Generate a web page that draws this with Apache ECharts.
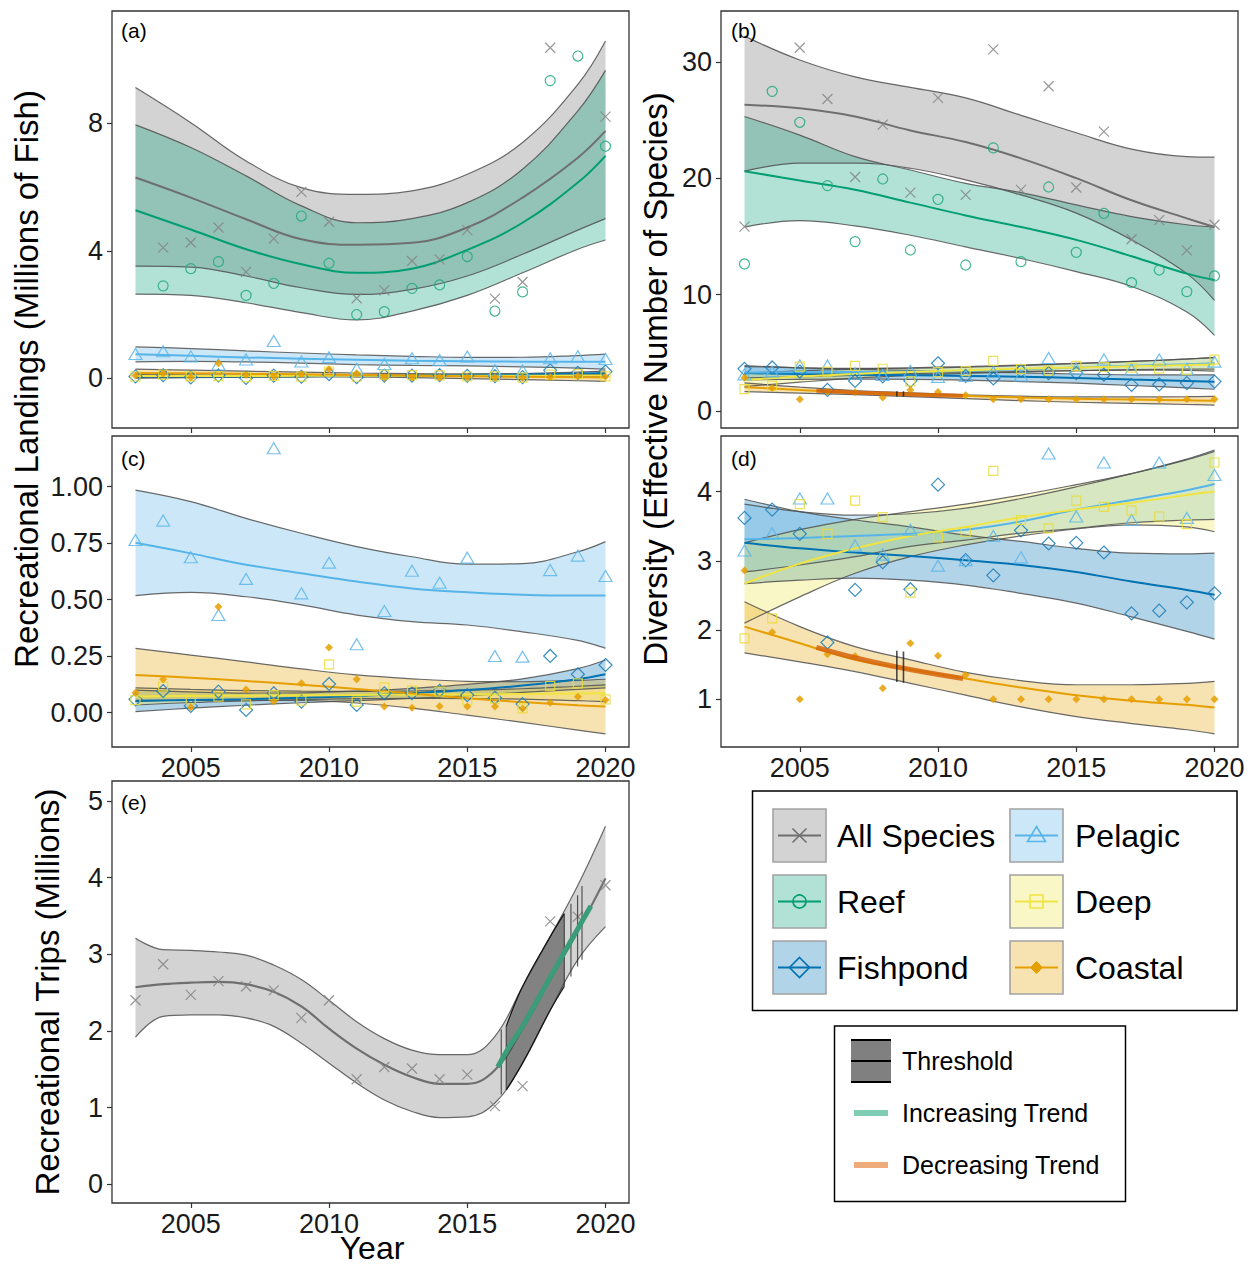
<!DOCTYPE html>
<html><head><meta charset="utf-8">
<script src="https://cdn.jsdelivr.net/npm/echarts@6/dist/echarts.min.js"></script>
<style>html,body{margin:0;padding:0;background:#fff}#c{width:1256px;height:1268px}</style>
</head><body><div id="c"></div>
<script>
// ---------------- DATA ----------------
const years = [2003,2004,2005,2006,2007,2008,2009,2010,2011,2012,2013,2014,2015,2016,2017,2018,2019,2020];
const xTicks = [2005,2010,2015,2020];
const yTicksA = [0,4,8];
const yTicksB = [0,10,20,30];
const yTicksC = [0,0.25,0.5,0.75,1.0];
const yTicksD = [1,2,3,4];
const yTicksE = [0,1,2,3,4,5];

// Recreational landings (millions of fish), panels (a) and (c)
const landAll      = [null,4.10,4.26,4.73,3.34,4.38,5.85,4.91,2.51,2.76,3.68,3.73,4.65,2.50,3.02,10.37,null,8.21];
const landReef     = [null,2.90,3.44,3.66,2.60,2.98,5.09,3.61,2.00,2.09,2.82,2.93,3.82,2.11,2.71,9.34,10.11,7.28];
const landPelagic  = [0.764,0.850,0.688,0.432,0.592,1.170,0.528,0.664,0.303,0.450,0.628,0.575,0.686,0.251,0.248,0.631,0.695,0.605];
const landDeep     = [0.056,0.115,0.059,0.071,0.037,0.078,0.053,0.214,0.049,0.112,0.098,0.093,0.056,0.062,0.019,0.118,0.130,0.059];
const landFishpond = [0.059,0.096,0.030,0.093,0.012,0.086,0.049,0.127,0.034,0.086,0.086,0.097,0.078,0.066,0.038,0.251,0.170,0.211];
const landCoastal  = [0.088,0.148,0.024,0.469,0.103,0.049,0.130,0.288,0.148,0.027,0.022,0.029,0.027,0.027,0.019,0.044,0.071,0.056];

// Diversity (effective number of species), panels (b) and (d)
const divAll      = [15.84,null,31.2,26.8,20.1,24.6,18.76,26.9,18.56,31.07,18.99,27.9,19.2,24.0,14.75,16.4,13.8,16.0];
const divReef     = [12.63,27.46,24.8,19.36,14.55,19.93,13.83,18.18,12.54,22.6,12.83,19.24,13.63,16.98,11.02,12.11,10.25,11.6];
const divPelagic  = [3.15,3.40,3.90,3.90,3.22,3.09,3.45,2.93,3.01,3.36,3.05,4.55,3.64,4.42,3.59,4.42,3.62,4.24];
const divDeep     = [1.88,2.17,3.82,3.39,3.87,3.63,2.54,3.34,3.42,4.30,3.59,3.47,3.87,3.78,3.73,3.64,3.53,4.42];
const divFishpond = [3.62,3.74,3.39,1.82,2.58,2.98,2.59,4.10,3.01,2.79,3.44,3.25,3.26,3.12,2.24,2.28,2.40,2.53];
const divCoastal  = [2.86,1.97,1.00,1.65,1.62,1.16,1.81,1.63,1.35,1.00,1.00,1.00,1.00,1.00,1.00,1.00,1.00,1.00];

// Recreational trips (millions), panel (e)
const trips = [2.40,2.87,2.47,2.65,2.58,2.53,2.17,2.40,1.37,1.53,1.51,1.37,1.43,1.02,1.28,3.43,3.49,3.90];

// Fitted curves with confidence bands (read at these years)
const fitYears = [2003,2005,2007,2009,2011,2013,2015,2017,2019,2020];
const landAllLo  = [3.52,3.49,3.21,2.84,2.63,2.79,3.21,3.89,4.65,5.01];
const landAllMid = [6.30,5.67,4.99,4.36,4.19,4.25,4.73,5.67,6.92,7.76];
const landAllHi  = [9.12,8.02,6.82,5.98,5.77,5.88,6.40,7.40,9.22,10.58];
const landReefLo  = [2.64,2.60,2.37,2.06,1.83,2.11,2.60,3.31,4.05,4.34];
const landReefMid = [5.27,4.67,4.05,3.58,3.31,3.44,4.03,4.88,6.14,6.98];
const landReefHi  = [7.95,7.24,6.35,5.41,4.88,5.01,5.51,6.56,8.39,9.66];
const landPelLo  = [0.518,0.532,0.513,0.477,0.432,0.403,0.388,0.358,0.320,0.285];
const landPelMid = [0.752,0.705,0.655,0.617,0.580,0.550,0.533,0.522,0.518,0.518];
const landPelHi  = [0.985,0.934,0.860,0.794,0.735,0.690,0.657,0.660,0.712,0.757];
const landDeepLo  = [0.034,0.045,0.052,0.058,0.062,0.063,0.062,0.060,0.053,0.049];
const landDeepMid = [0.072,0.074,0.075,0.077,0.078,0.080,0.081,0.083,0.085,0.086];
const landDeepHi  = [0.110,0.103,0.098,0.095,0.094,0.096,0.100,0.106,0.117,0.123];
const landFishLo  = [0.005,0.020,0.033,0.044,0.053,0.063,0.075,0.090,0.103,0.110];
const landFishMid = [0.053,0.056,0.060,0.066,0.074,0.086,0.100,0.120,0.148,0.170];
const landFishHi  = [0.100,0.092,0.087,0.088,0.095,0.108,0.125,0.150,0.195,0.233];
const landCoastLo  = [0.049,0.055,0.055,0.054,0.043,0.020,-0.011,-0.043,-0.077,-0.094];
const landCoastMid = [0.167,0.155,0.140,0.124,0.105,0.085,0.064,0.047,0.033,0.027];
const landCoastHi  = [0.285,0.255,0.225,0.194,0.167,0.150,0.139,0.137,0.143,0.148];

const divAllLo  = [20.6,21.3,21.3,20.85,19.85,18.56,17.0,14.7,11.8,9.5];
const divAllMid = [26.3,26.0,25.3,24.1,23.1,21.7,20.0,18.1,16.55,15.8];
const divAllHi  = [32.2,30.15,28.7,27.8,26.9,25.4,23.9,22.5,21.85,21.8];
const divReefLo  = [15.8,16.35,15.9,15.1,14.1,13.1,11.97,10.7,8.5,6.5];
const divReefMid = [20.6,19.8,19.0,17.9,16.8,15.8,14.7,13.3,11.8,11.25];
const divReefHi  = [25.3,23.7,21.85,20.7,19.56,18.76,17.7,16.7,16.0,15.8];
const divPelLo  = [2.84,2.94,3.06,3.21,3.30,3.40,3.47,3.55,3.59,3.60];
const divPelMid = [3.31,3.33,3.36,3.39,3.45,3.57,3.74,3.88,4.02,4.11];
const divPelHi  = [3.82,3.71,3.66,3.68,3.76,3.90,4.07,4.26,4.47,4.60];
const divDeepLo  = [2.10,2.48,2.82,3.06,3.23,3.36,3.46,3.52,3.49,3.42];
const divDeepMid = [2.67,2.96,3.18,3.36,3.49,3.63,3.74,3.84,3.95,4.00];
const divDeepHi  = [3.26,3.45,3.60,3.71,3.82,3.95,4.10,4.26,4.46,4.58];
const divFishLo  = [2.67,2.72,2.75,2.72,2.65,2.53,2.39,2.19,1.98,1.87];
const divFishMid = [3.26,3.18,3.12,3.07,3.01,2.94,2.84,2.70,2.58,2.51];
const divFishHi  = [3.89,3.71,3.59,3.49,3.37,3.28,3.18,3.11,3.10,3.11];
const divCoastLo  = [1.67,1.54,1.40,1.23,1.06,0.89,0.75,0.65,0.56,0.50];
const divCoastMid = [2.05,1.81,1.57,1.43,1.30,1.17,1.06,0.98,0.92,0.88];
const divCoastHi  = [2.41,2.05,1.76,1.57,1.39,1.27,1.21,1.21,1.23,1.26];

const tripsLo  = [1.92,2.19,2.21,2.21,2.17,2.06,1.84,1.58,1.32,1.10,0.95,0.87,0.88,1.06,1.58,2.27,2.93,3.36];
const tripsMid = [2.57,2.61,2.63,2.64,2.61,2.51,2.32,2.03,1.77,1.56,1.40,1.31,1.31,1.49,2.03,2.67,3.30,3.99];
const tripsHi  = [3.21,3.06,3.05,3.03,2.99,2.86,2.67,2.40,2.12,1.90,1.75,1.69,1.69,1.93,2.58,3.23,3.90,4.67];

// Thresholds and trends
const tripsThreshYears = [2016.23,2016.41,2018.51,2018.75,2018.99,2019.15];
const tripsThreshLo    = [1.17,1.23,2.58,2.71,2.84,2.93];
const tripsThreshHi    = [2.02,2.06,3.53,3.66,3.77,3.89];
const tripsShadeYears  = [2016.41,2017,2018,2018.51];
const tripsShadeLo     = [1.23,1.58,2.27,2.58];
const tripsShadeHi     = [2.06,2.58,3.23,3.53];
const tripsIncYears    = [2016.1,2016.53,2017,2018,2019.47];
const tripsIncVals     = [1.53,1.80,2.06,2.70,3.63];
const coastThreshYears = [2008.51,2008.75];
const coastThreshLo    = [1.25,1.24];
const coastThreshHi    = [1.70,1.69];
const coastDecYears    = [2005.6,2007,2008.6,2010.9];
const coastDecVals     = [1.75,1.60,1.46,1.30];

const legendNames = ['All Species','Reef','Fishpond','Pelagic','Deep','Coastal'];
const legendKeys  = ['all','reef','fish','pel','deep','coast'];
const legend2Names = ['Threshold','Increasing Trend','Decreasing Trend'];
const panelTags = ['(a)','(b)','(c)','(d)','(e)'];

// ---------------- STYLE ----------------
const YMS = 31557600000;
const T = y => (y - 1970) * YMS;   // year -> time-axis value (so the bands stack on y)
const FONT = '"Liberation Sans", Arial, Helvetica, sans-serif';
const EDGE = 'rgba(80,80,80,0.85)';
const SM = 0.4;
const COL = {all:'#6f6f6f', reef:'#009E73', pel:'#56B4E9', deep:'#F0E442', fish:'#0072B2', coast:'#E69F00'};
const FILL = {all:'rgba(128,128,128,0.35)', reef:'rgba(0,158,115,0.30)', pel:'rgba(86,180,233,0.30)',
  deep:'rgba(240,228,66,0.30)', fish:'rgba(0,114,178,0.30)', coast:'rgba(230,159,0,0.30)'};
const NOFILL = 'rgba(0,0,0,0)';
const PT = {
  all:  {symbol:'path://M0,0L10,10M10,0L0,10', size:10, fill:NOFILL, stroke:'#858585', bw:1.2},
  reef: {symbol:'circle', size:10, fill:NOFILL, stroke:'#22a97f', bw:1.2},
  pel:  {symbol:'triangle', size:[13,11], fill:NOFILL, stroke:'#5db6ea', bw:1.2},
  deep: {symbol:'rect', size:9, fill:NOFILL, stroke:'#eadc3a', bw:1.2},
  fish: {symbol:'diamond', size:13, fill:NOFILL, stroke:'#1a7bb8', bw:1.2},
  coast:{symbol:'diamond', size:8, fill:'#E69F00', stroke:'#E69F00', bw:0}
};

const grids = [
  {left:112, top:11,  width:517, height:417},
  {left:721, top:11,  width:517, height:417},
  {left:112, top:436, width:517, height:311},
  {left:721, top:436, width:517, height:311},
  {left:112, top:781, width:517, height:422}
];
const yRanges = [[-1.559,11.523],[-1.46,34.36],[-0.1518,1.2243],[0.311,4.803],[-0.244,5.26]];
const yTickSets = [yTicksA, yTicksB, yTicksC, yTicksD, yTicksE];

// ---------------- SERIES ----------------
const series = [];
function ribbon(g, fx, lo, hi, fill, id, edge, z){
  const common = {type:'line', xAxisIndex:g, yAxisIndex:g, stack:id, stackStrategy:'all', symbol:'none',
    showSymbol:false, smooth:SM, silent:true, z:z||2, lineStyle:{color:edge||EDGE, width:1.2}};
  series.push(Object.assign({}, common, {data: fx.map((x,i)=>[T(x), lo[i]])}));
  series.push(Object.assign({}, common, {data: fx.map((x,i)=>[T(x), +(hi[i]-lo[i]).toFixed(4)]),
    areaStyle:{color:fill, opacity:1}}));
}
function fitLine(g, fx, vals, color, width, z){
  series.push({type:'line', xAxisIndex:g, yAxisIndex:g, data: fx.map((x,i)=>[T(x), vals[i]]),
    symbol:'none', showSymbol:false, smooth:SM, silent:true, z:z||3, lineStyle:{color, width:width||2}});
}
function pts(g, vals, key){
  const p = PT[key];
  series.push({type:'scatter', xAxisIndex:g, yAxisIndex:g,
    data: years.map((y,i)=>[T(y), vals[i]]).filter(d=>d[1]!=null),
    symbol:p.symbol, symbolSize:p.size, silent:true, z:4,
    itemStyle:{color:p.fill, borderColor:p.stroke, borderWidth:p.bw, opacity:0.85}});
}
function vlines(g, xs, lo, hi, color, width){
  xs.forEach((x,i)=>series.push({type:'line', xAxisIndex:g, yAxisIndex:g, data:[[T(x),lo[i]],[T(x),hi[i]]],
    symbol:'none', showSymbol:false, silent:true, z:6, lineStyle:{color, width}}));
}

// panel (a) & (c): landings
[0,2].forEach(g=>{
  if (g===0){
    ribbon(g, fitYears, landAllLo, landAllHi, FILL.all, 'a_all');
    ribbon(g, fitYears, landReefLo, landReefHi, FILL.reef, 'a_reef');
  }
  ribbon(g, fitYears, landFishLo, landFishHi, FILL.fish, 'fish'+g);
  ribbon(g, fitYears, landPelLo, landPelHi, FILL.pel, 'pel'+g);
  ribbon(g, fitYears, landDeepLo, landDeepHi, FILL.deep, 'deep'+g);
  ribbon(g, fitYears, landCoastLo, landCoastHi, FILL.coast, 'coast'+g);
  if (g===0){
    fitLine(g, fitYears, landAllMid, COL.all);
    fitLine(g, fitYears, landReefMid, COL.reef);
  }
  fitLine(g, fitYears, landFishMid, COL.fish);
  fitLine(g, fitYears, landPelMid, COL.pel);
  fitLine(g, fitYears, landDeepMid, COL.deep);
  fitLine(g, fitYears, landCoastMid, COL.coast);
  if (g===0){ pts(g, landAll, 'all'); pts(g, landReef, 'reef'); }
  pts(g, landFishpond, 'fish'); pts(g, landPelagic, 'pel'); pts(g, landDeep, 'deep'); pts(g, landCoastal, 'coast');
});

// panel (b) & (d): diversity
[1,3].forEach(g=>{
  if (g===1){
    ribbon(g, fitYears, divAllLo, divAllHi, FILL.all, 'b_all');
    ribbon(g, fitYears, divReefLo, divReefHi, FILL.reef, 'b_reef');
  }
  ribbon(g, fitYears, divFishLo, divFishHi, FILL.fish, 'dfish'+g);
  ribbon(g, fitYears, divPelLo, divPelHi, FILL.pel, 'dpel'+g);
  ribbon(g, fitYears, divDeepLo, divDeepHi, FILL.deep, 'ddeep'+g);
  ribbon(g, fitYears, divCoastLo, divCoastHi, FILL.coast, 'dcoast'+g);
  if (g===1){
    fitLine(g, fitYears, divAllMid, COL.all);
    fitLine(g, fitYears, divReefMid, COL.reef);
  }
  fitLine(g, fitYears, divFishMid, COL.fish);
  fitLine(g, fitYears, divPelMid, COL.pel);
  fitLine(g, fitYears, divDeepMid, COL.deep);
  fitLine(g, fitYears, divCoastMid, COL.coast);
  fitLine(g, coastDecYears, coastDecVals, 'rgba(213,100,10,0.85)', g===1?4:5, 5);
  vlines(g, coastThreshYears, coastThreshLo, coastThreshHi, 'rgba(30,30,30,0.8)', 1.6);
  if (g===1){ pts(g, divAll, 'all'); pts(g, divReef, 'reef'); }
  pts(g, divFishpond, 'fish'); pts(g, divPelagic, 'pel'); pts(g, divDeep, 'deep'); pts(g, divCoastal, 'coast');
});

// panel (e): trips
ribbon(4, years, tripsLo, tripsHi, FILL.all, 'e_all');
fitLine(4, years, tripsMid, COL.all, 2.2);
ribbon(4, tripsShadeYears, tripsShadeLo, tripsShadeHi, 'rgba(50,50,50,0.5)', 'e_thr', '#111', 5);
vlines(4, tripsThreshYears, tripsThreshLo, tripsThreshHi, 'rgba(40,40,40,0.75)', 1.2);
fitLine(4, tripsIncYears, tripsIncVals, '#3a9c78', 5, 7);
pts(4, trips, 'all');

// ---------------- GRAPHIC (labels, titles, legends) ----------------
const graphic = [];
const tagPos = [[121,30],[731,30],[121,458],[731,458],[121,802]];
panelTags.forEach((t,i)=>graphic.push({type:'text', x:tagPos[i][0], y:tagPos[i][1], z:20,
  style:{text:t, fontSize:21, fontFamily:FONT, fill:'#000', verticalAlign:'middle'}}));
function title(text, x, y, rot, size){
  graphic.push({type:'text', x, y, rotation: rot ? Math.PI/2 : 0, z:20,
    style:{text, fontSize:size||33, fontFamily:FONT, fill:'#000', align:'center', verticalAlign:'middle'}});
}
title('Recreational Landings (Millions of Fish)', 26, 379, true);
title('Diversity (Effective Number of Species)', 655, 379, true);
title('Recreational Trips (Millions)', 47, 992, true);
title('Year', 372, 1248, false, 32);

// legend 1
graphic.push({type:'rect', shape:{x:752.5, y:791, width:484.5, height:219.5}, z:20,
  style:{fill:'#fff', stroke:'#000', lineWidth:1.5}});
function marker(key, cx, cy){
  const c = COL[key], lw = 1.6, out = [];
  if (key==='all'){
    out.push({type:'line', shape:{x1:cx-7,y1:cy-7,x2:cx+7,y2:cy+7}, style:{stroke:c, lineWidth:lw}});
    out.push({type:'line', shape:{x1:cx-7,y1:cy+7,x2:cx+7,y2:cy-7}, style:{stroke:c, lineWidth:lw}});
  } else if (key==='reef'){
    out.push({type:'circle', shape:{cx, cy, r:6.5}, style:{fill:'none', stroke:c, lineWidth:lw}});
  } else if (key==='fish'){
    out.push({type:'polygon', shape:{points:[[cx,cy-10],[cx+10,cy],[cx,cy+10],[cx-10,cy]]}, style:{fill:'none', stroke:c, lineWidth:lw}});
  } else if (key==='pel'){
    out.push({type:'polygon', shape:{points:[[cx,cy-9],[cx+9,cy+6],[cx-9,cy+6]]}, style:{fill:'none', stroke:c, lineWidth:lw}});
  } else if (key==='deep'){
    out.push({type:'rect', shape:{x:cx-6.5,y:cy-6.5,width:13,height:13}, style:{fill:'none', stroke:c, lineWidth:lw}});
  } else {
    out.push({type:'polygon', shape:{points:[[cx,cy-6],[cx+6,cy],[cx,cy+6],[cx-6,cy]]}, style:{fill:c, stroke:c, lineWidth:1}});
  }
  return out;
}
legendNames.forEach((name,i)=>{
  const col = Math.floor(i/3), row = i%3;
  const sx = col ? 1010 : 773, sy = 809 + row*66, key = legendKeys[i];
  const cy = sy + 26.5;
  graphic.push({type:'rect', shape:{x:sx, y:sy, width:53, height:53}, z:21, style:{fill:FILL[key], stroke:'#a3a3a3', lineWidth:1.6}});
  graphic.push({type:'line', shape:{x1:sx+5, y1:cy, x2:sx+48, y2:cy}, z:22, style:{stroke:COL[key], lineWidth:2}});
  marker(key, sx+26.5, cy).forEach(m=>{ m.z = 23; graphic.push(m); });
  graphic.push({type:'text', x: col ? 1075 : 837, y: cy, z:22,
    style:{text:name, fontSize:32, fontFamily:FONT, fill:'#000', verticalAlign:'middle'}});
});

// legend 2
graphic.push({type:'rect', shape:{x:834.5, y:1026, width:291, height:175.5}, z:20,
  style:{fill:'#fff', stroke:'#000', lineWidth:1.5}});
graphic.push({type:'rect', shape:{x:851, y:1040, width:40, height:42}, z:21, style:{fill:'#808080', stroke:'none'}});
[1040,1061,1082].forEach(y=>graphic.push({type:'line', shape:{x1:851,y1:y,x2:891,y2:y}, z:22, style:{stroke:'#000', lineWidth:2}}));
graphic.push({type:'line', shape:{x1:854,y1:1113,x2:888,y2:1113}, z:22, style:{stroke:'#7fcdb4', lineWidth:6}});
graphic.push({type:'line', shape:{x1:854,y1:1165,x2:888,y2:1165}, z:22, style:{stroke:'#eeab7c', lineWidth:6}});
legend2Names.forEach((t,i)=>graphic.push({type:'text', x:902, y:1061 + i*52, z:22,
  style:{text:t, fontSize:25, fontFamily:FONT, fill:'#000', verticalAlign:'middle'}}));

// ---------------- AXES ----------------
// time axes (0-4) carry the data; value axes (5-9) draw the year ticks/labels over the same range
const dataX = grids.map((g,i)=>({
  type:'time', gridIndex:i, min:T(2002.15), max:T(2020.85),
  axisLine:{show:false}, splitLine:{show:false}, axisTick:{show:false}, axisLabel:{show:false}
}));
const tickX = grids.map((g,i)=>({
  type:'value', gridIndex:i, min:2002.15, max:2020.85, position:'bottom',
  axisLine:{show:false}, splitLine:{show:false},
  axisTick:{show:true, length:5, lineStyle:{color:'#333', width:1.2}, customValues:xTicks},
  axisLabel:{show:i>=2, customValues:xTicks, formatter:v=>String(Math.round(v)),
    fontSize:27, color:'#1a1a1a', fontFamily:FONT, margin:7}
}));

const option = {
  animation:false,
  backgroundColor:'#fff',
  textStyle:{fontFamily:FONT},
  grid: grids.map(g=>Object.assign({show:true, borderColor:'#333', borderWidth:1.3, backgroundColor:'rgba(0,0,0,0)'}, g)),
  xAxis: dataX.concat(tickX),
  yAxis: grids.map((g,i)=>({
    type:'value', gridIndex:i, min:yRanges[i][0], max:yRanges[i][1],
    axisLine:{show:false}, splitLine:{show:false},
    axisTick:{show:true, length:5, lineStyle:{color:'#333', width:1.2}, customValues:yTickSets[i]},
    axisLabel:{customValues:yTickSets[i], formatter: v => i===2 ? v.toFixed(2) : String(v),
      fontSize:27, color:'#1a1a1a', fontFamily:FONT, margin:9}
  })),
  series,
  graphic
};
const chart = echarts.init(document.getElementById('c'), null, {renderer:'svg'});
chart.setOption(option);
</script>
</body></html>
